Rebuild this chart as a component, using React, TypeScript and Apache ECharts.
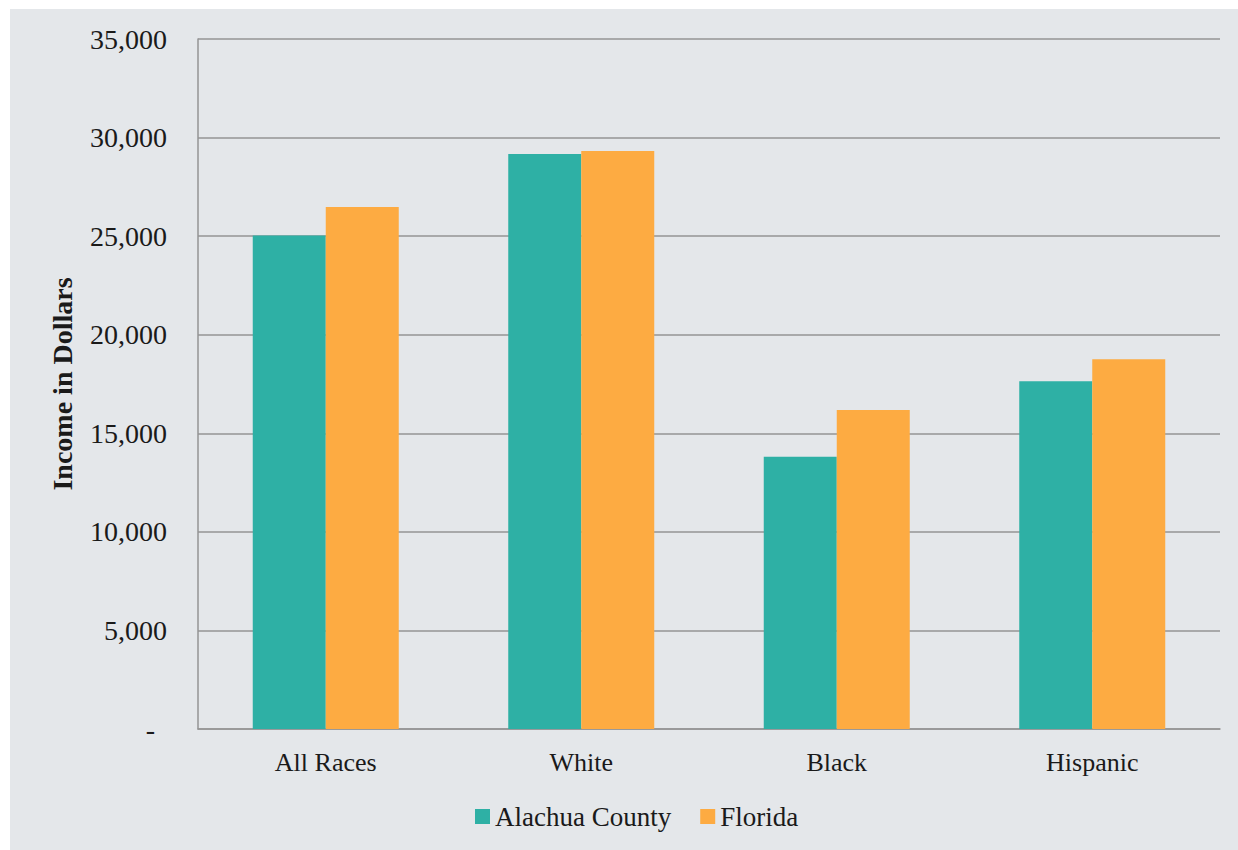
import React, { useEffect, useRef } from "react";
import * as echarts from "echarts";

// Per-capita income by race, Alachua County vs. Florida
const categories = ["All Races", "White", "Black", "Hispanic"];
const alachuaCounty = [25030, 29170, 13810, 17640];
const florida = [26480, 29320, 16180, 18750];
const seriesNames = ["Alachua County", "Florida"];
const yTicks = [0, 5000, 10000, 15000, 20000, 25000, 30000, 35000];

const FONT = "Liberation Serif";
const TEXT = "#1a1a1a";
const GRID_LINE = "#959595";

export default function App() {
  const ref = useRef<HTMLDivElement>(null);

  useEffect(() => {
    if (!ref.current) return;
    const chart = echarts.init(ref.current, undefined, { renderer: "svg" });
    chart.setOption({
      animation: false,
      backgroundColor: "#e4e7ea",
      textStyle: { fontFamily: FONT, color: TEXT },
      grid: { left: 188, top: 30, right: 18, bottom: 121 },
      legend: {
        bottom: 15,
        left: 460,
        itemWidth: 15,
        itemHeight: 15,
        itemGap: 29,
        icon: "rect",
        textStyle: { fontFamily: FONT, fontSize: 27, color: TEXT },
        data: seriesNames,
      },
      xAxis: {
        type: "category",
        data: categories,
        axisLine: { show: true, lineStyle: { color: GRID_LINE, width: 1.5 } },
        axisTick: { show: false },
        axisLabel: { fontFamily: FONT, fontSize: 26, color: TEXT, margin: 20 },
      },
      yAxis: {
        type: "value",
        min: yTicks[0],
        max: yTicks[yTicks.length - 1],
        interval: 5000,
        name: "Income in Dollars",
        nameLocation: "middle",
        nameGap: 122,
        nameTextStyle: { fontFamily: FONT, fontSize: 28, fontWeight: "bold", color: TEXT },
        axisLine: { show: true, lineStyle: { color: GRID_LINE, width: 1.5 } },
        axisTick: { show: false },
        splitLine: { show: true, lineStyle: { color: GRID_LINE, width: 1.5 } },
        axisLabel: {
          fontFamily: FONT,
          fontSize: 28,
          color: TEXT,
          margin: 31,
          formatter: (v: number) =>
            v === 0 ? "{dash|-}" : v.toLocaleString("en-US"),
          rich: {
            dash: { fontFamily: FONT, fontSize: 28, color: TEXT, padding: [0, 12, 0, 0] },
          },
        },
      },
      series: [
        {
          name: seriesNames[0],
          type: "bar",
          data: alachuaCounty,
          barWidth: 73,
          barGap: "0%",
          itemStyle: { color: "#2eb0a5" },
        },
        {
          name: seriesNames[1],
          type: "bar",
          data: florida,
          barWidth: 73,
          barGap: "0%",
          itemStyle: { color: "#fdab42" },
        },
      ],
    });
    return () => chart.dispose();
  }, []);

  return (
    <div
      ref={ref}
      style={{ position: "fixed", left: 10, top: 9, width: 1228, height: 841 }}
    />
  );
}
